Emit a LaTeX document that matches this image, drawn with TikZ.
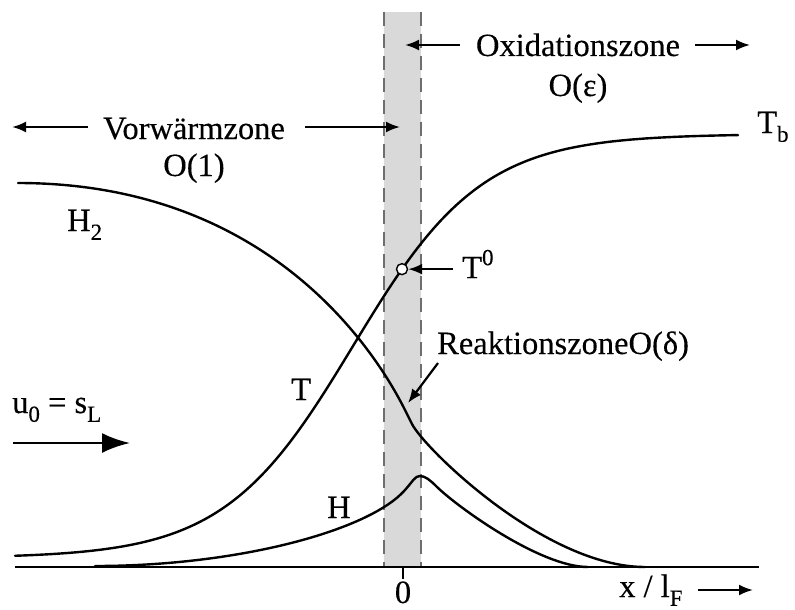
\documentclass[tikz,border=0pt]{standalone}
\usepackage{fontspec}
\setmainfont{Liberation Serif}[FakeBold=0.25]
\usetikzlibrary{arrows.meta}
\newcommand{\lo}[1]{\raisebox{-0.27em}{\fontsize{23}{23}\selectfont #1}}
\newcommand{\hi}[1]{\raisebox{0.40em}{\fontsize{23}{23}\selectfont #1}}
\definecolor{bandgray}{RGB}{217,217,217}
\definecolor{dashgray}{RGB}{110,110,110}
\begin{document}
\begin{tikzpicture}[x=1pt,y=-1pt,
  curve/.style={line width=2.4pt, line join=round, line cap=round},
  lbl/.style={inner sep=0pt, font=\fontsize{32.5}{38}\selectfont},
  arr/.style={line width=2.2pt, -{Latex[length=14pt,width=11pt]}},
  bigarr/.style={line width=2.8pt, -{Latex[length=28pt,width=20pt]}},
  bandedge/.style={draw=dashgray, line width=1.3pt, dash pattern=on 14pt off 8pt},
  marker/.style={circle, draw=black, fill=white, line width=1.4pt, minimum size=11pt, inner sep=0pt}
]
\useasboundingbox (0,0) rectangle (795,610);

% reaction/oxidation band
\fill[bandgray] (384,12) rectangle (421,567);
\coordinate (bl1) at (384,12); \coordinate (bl2) at (384,567);
\coordinate (br1) at (421,12); \coordinate (br2) at (421,567);
\draw[bandedge] (bl1) -- (bl2);
\draw[bandedge] (br1) -- (br2);

% axis
\coordinate (ax0) at (15,567); \coordinate (ax1) at (759,567);
\draw[line width=1.6pt] (ax0) -- (ax1);
\coordinate (tk0) at (403,567); \coordinate (tk1) at (403,579);
\draw[line width=1.6pt] (tk0) -- (tk1);
\node[lbl, anchor=base] (zero) at (403,603) {0};
\node[lbl, anchor=base west] (xlab) at (619,597) {x / l\lo{F}};
\coordinate (xa0) at (698,590); \coordinate (xa1) at (753,590);
\draw[arr] (xa0) -- (xa1);

% temperature T (logistic)
\draw[curve] plot[domain=15:738, samples=150, smooth]
  (\x, {558-424/(1+exp(-0.0155*(\x-353)))});
% H2
\coordinate (h2a) at (18,183);
\coordinate (h2b) at (405,410);
\coordinate (h2c) at (412,424);
\coordinate (h2d) at (645,567);
\draw[curve] (h2a) .. controls (268,183) and (375,350) .. (h2b)
  -- (h2c) .. controls (424,448) and (545,567) .. (h2d);
% H
\coordinate (ha) at (95,566);
\coordinate (hb) at (405,490);
\coordinate (hc) at (420,476);
\coordinate (hd) at (436,486);
\coordinate (he) at (588,567);
\draw[curve] (ha) .. controls (240,566) and (370,530) .. (hb)
  .. controls (413,481) and (415,476) .. (hc)
  .. controls (425,476) and (430,480) .. (hd)
  .. controls (456,506) and (540,567) .. (he);

% T0 marker
\node[marker] (t0pt) at (402,{558-424/(1+exp(-0.0155*(402-353)))}) {};
\node[lbl, anchor=base west] (t0lab) at (462,{558-424/(1+exp(-0.0155*(402-353)))+9}) {T\hi{0}};
\coordinate (t0a) at ([xshift=51pt]t0pt.center);
\draw[arr] (t0a) -- (t0pt.east);

% labels on curves
\node[lbl, anchor=base west] (tb) at (757,133) {T\lo{b}};
\node[lbl, anchor=base west] (h2) at (67,231) {H\lo{2}};
\node[lbl, anchor=base west] (tlab) at (291,400) {T};
\node[lbl, anchor=base west] (hlab) at (327,518) {H};

% reaction zone
\node[lbl, anchor=base west] (rz) at (437,354) {ReaktionszoneO(δ)};
\coordinate (rza) at (438,363); \coordinate (rzb) at (408,403);
\draw[arr] (rza) -- (rzb);

% preheat zone
\node[lbl, anchor=base] (vz) at (194,139) {Vorwärmzone};
\node[lbl, anchor=base] (vz2) at (194,176) {O(1)};
\coordinate (vl0) at (88,127); \coordinate (vl1) at (12,127);
\coordinate (vr0) at (305,127); \coordinate (vr1) at (400,127);
\draw[arr] (vl0) -- (vl1);
\draw[arr] (vr0) -- (vr1);

% oxidation zone
\node[lbl, anchor=base] (oz) at (578,56) {Oxidationszone};
\node[lbl, anchor=base] (oz2) at (578,96) {O(ε)};
\coordinate (ol0) at (460,45); \coordinate (ol1) at (405,45);
\coordinate (or0) at (695,45); \coordinate (or1) at (750,45);
\draw[arr] (ol0) -- (ol1);
\draw[arr] (or0) -- (or1);

% inflow
\node[lbl, anchor=base west] (u0) at (12,413) {u\lo{0} = s\lo{L}};
\coordinate (ua0) at (13,443); \coordinate (ua1) at (130,443);
\draw[bigarr] (ua0) -- (ua1);
\end{tikzpicture}
\end{document}
